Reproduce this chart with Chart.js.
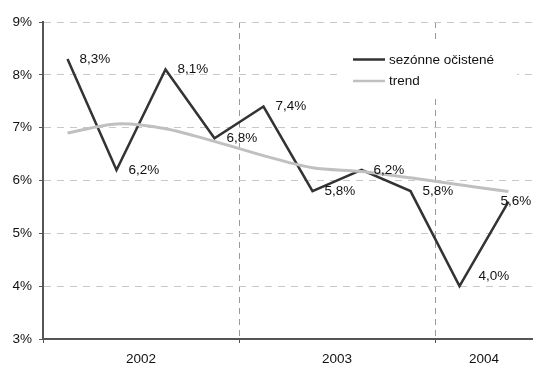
<!DOCTYPE html>
<html><head><meta charset="utf-8">
<script src="https://cdn.jsdelivr.net/npm/chart.js@4"></script>
<style>html,body{margin:0;padding:0;background:#fff;} canvas{display:block;}</style>
</head><body>
<canvas id="c" width="533" height="365"></canvas>
<script>
const categories = ['2002 Q1','2002 Q2','2002 Q3','2002 Q4','2003 Q1','2003 Q2','2003 Q3','2003 Q4','2004 Q1','2004 Q2'];
const seasonallyAdjusted = [8.3, 6.2, 8.1, 6.8, 7.4, 5.8, 6.2, 5.8, 4.0, 5.6];
const trend = [6.90, 7.07, 6.98, 6.74, 6.47, 6.24, 6.17, 6.05, 5.92, 5.79];
const seriesNames = ['sezónne očistené', 'trend'];
const yMin = 3, yMax = 9, yStep = 1;

// year groups derived from categories
const years = [];
categories.forEach((c, i) => {
  const y = c.split(' ')[0];
  const last = years[years.length - 1];
  if (!last || last.label !== y) years.push({label: y, start: i, end: i + 1});
  else last.end = i + 1;
});
const boundaries = years.map(y => y.start).concat([categories.length]);
const centers = years.map(y => (y.start + y.end) / 2);

const FONT = {family: '"Liberation Sans", Arial, sans-serif', size: 13.5};
const AXIS = '#555555';
const DARK = '#333333';
const LIGHT = '#c0c0c0';

const labelOffsets = {8: [19, -10], 9: [-8, 0]};

const dataLabels = {
  id: 'dataLabels',
  afterDatasetsDraw(chart) {
    const ctx = chart.ctx;
    const meta = chart.getDatasetMeta(0);
    ctx.save();
    ctx.font = FONT.size + 'px ' + FONT.family;
    ctx.fillStyle = '#111';
    ctx.textAlign = 'left';
    ctx.textBaseline = 'middle';
    meta.data.forEach((pt, i) => {
      const off = labelOffsets[i] || [12, 0];
      const txt = seasonallyAdjusted[i].toFixed(1).replace('.', ',') + '%';
      ctx.fillText(txt, pt.x + off[0], pt.y + off[1]);
    });
    ctx.restore();
  }
};

const boxLegend = {
  id: 'boxLegend',
  beforeDatasetsDraw(chart) {
    const ctx = chart.ctx, a = chart.chartArea;
    const x0 = a.left + 294, y0 = a.top + 22;
    ctx.save();
    ctx.fillStyle = '#ffffff';
    ctx.fillRect(x0, y0, 180, 54);
    const colors = [DARK, LIGHT];
    const widths = [2.5, 2.5];
    ctx.font = FONT.size + 'px ' + FONT.family;
    ctx.textBaseline = 'middle';
    ctx.textAlign = 'left';
    seriesNames.forEach((n, i) => {
      const y = y0 + 15.5 + i * 21.5;
      ctx.strokeStyle = colors[i];
      ctx.lineWidth = widths[i];
      ctx.beginPath();
      ctx.moveTo(x0 + 16, y);
      ctx.lineTo(x0 + 48, y);
      ctx.stroke();
      ctx.fillStyle = '#111';
      ctx.fillText(n, x0 + 52, y + 0.5);
    });
    ctx.restore();
  }
};

new Chart(document.getElementById('c'), {
  type: 'line',
  data: {
    datasets: [
      {
        label: seriesNames[0],
        data: seasonallyAdjusted.map((v, i) => ({x: i + 0.5, y: v})),
        borderColor: DARK, borderWidth: 2.5, pointRadius: 0, tension: 0,
        borderJoinStyle: 'miter', order: 1
      },
      {
        label: seriesNames[1],
        data: trend.map((v, i) => ({x: i + 0.5, y: v})),
        borderColor: LIGHT, borderWidth: 3, pointRadius: 0, tension: 0.3,
        order: 0
      }
    ]
  },
  options: {
    responsive: false,
    devicePixelRatio: 1,
    animation: false,
    layout: {padding: {top: 22, right: 0, left: 0, bottom: 0}},
    plugins: {legend: {display: false}, tooltip: {enabled: false}},
    scales: {
      x: {
        type: 'linear', min: 0, max: categories.length,
        afterBuildTicks(scale) {
          const vals = [...new Set(boundaries.concat(centers))].sort((a, b) => a - b);
          scale.ticks = vals.map(v => ({value: v}));
        },
        afterFit(scale) { scale.height = 26; scale.paddingLeft = 0; scale.paddingRight = 0; },
        ticks: {
          autoSkip: false, maxRotation: 0, padding: 8, color: '#111', font: FONT,
          callback(v) { const k = centers.indexOf(v); return k >= 0 ? years[k].label : ''; }
        },
        grid: {
          color(ctx) { const v = ctx.tick && ctx.tick.value; return (v > 0 && v < categories.length && boundaries.includes(v)) ? '#9a9a9a' : 'rgba(0,0,0,0)'; },
          tickColor(ctx) { const v = ctx.tick && ctx.tick.value; return boundaries.includes(v) && v < categories.length ? AXIS : 'rgba(0,0,0,0)'; },
          tickLength: 4, lineWidth: 1
        },
        border: {color: AXIS, width: 2, dash: [6, 5]}
      },
      y: {
        min: yMin, max: yMax,
        afterFit(scale) { scale.width = 43; },
        ticks: {stepSize: yStep, padding: 7, color: '#111', font: FONT, callback: v => v + '%'},
        grid: {
          color(ctx) { return ctx.tick && ctx.tick.value === yMin ? 'rgba(0,0,0,0)' : '#c8c8c8'; },
          tickColor: AXIS, tickLength: 4, lineWidth: 1
        },
        border: {color: AXIS, width: 2, dash: [7, 6]}
      }
    }
  },
  plugins: [boxLegend, dataLabels]
});
</script>
</body></html>
